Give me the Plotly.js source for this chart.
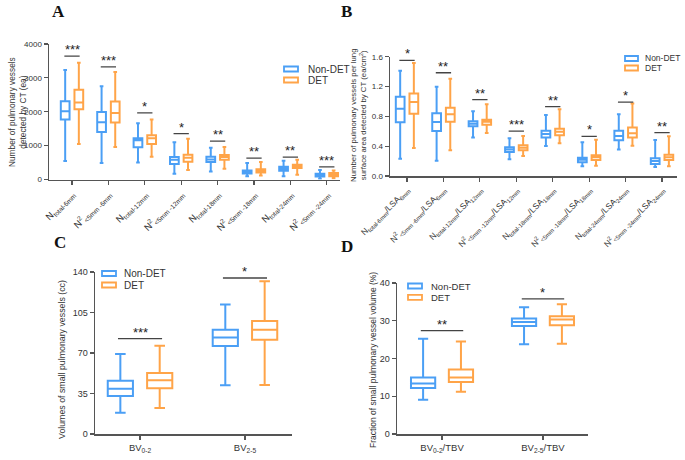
<!DOCTYPE html>
<html>
<head>
<meta charset="utf-8">
<script src="https://cdn.plot.ly/plotly-3.0.1.min.js"></script>
<style>html,body{margin:0;padding:0;background:#fff;}#chart{width:685px;height:460px;}</style>
</head>
<body>
<div id="chart"></div>
<script>
// ---------- Panel A data ----------
const catsA = ['N<sub>total-6mm</sub>', 'N<sup>2</sup><sub>&lt;5mm -6mm</sub>', 'N<sub>total-12mm</sub>', 'N<sup>2</sup><sub>&lt;5mm -12mm</sub>',
  'N<sub>total-18mm</sub>', 'N<sup>2</sup><sub>&lt;5mm -18mm</sub>', 'N<sub>total-24mm</sub>', 'N<sup>2</sup><sub>&lt;5mm -24mm</sub>'];
const A_nd_low = [543, 484, 504, 168, 237, 99, 99, 20];
const A_nd_q1 = [1768, 1402, 950, 454, 513, 178, 257, 90];
const A_nd_med = [2015, 1689, 1160, 583, 593, 227, 316, 130];
const A_nd_q3 = [2311, 1995, 1215, 662, 672, 267, 375, 170];
const A_nd_up = [3230, 2756, 1659, 1096, 939, 484, 553, 280];
const A_d_low = [1047, 958, 672, 277, 316, 118, 138, 40];
const A_d_q1 = [2074, 1679, 1047, 523, 583, 207, 336, 99];
const A_d_med = [2272, 1965, 1215, 642, 662, 257, 395, 150];
const A_d_q3 = [2647, 2301, 1304, 731, 721, 306, 435, 190];
const A_d_up = [3447, 3170, 1768, 1205, 958, 513, 583, 267];
const A_sig = ['***', '***', '*', '*', '**', '**', '**', '***'];
const A_sigY = [3644, 3326, 1964, 1354, 1135, 630, 660, 375];

// ---------- Panel B data ----------
const catsB = ['N<sub>total-6mm</sub>/LSA<sub>6mm</sub>', 'N<sup>2</sup><sub>&lt;5mm -6mm</sub>/LSA<sub>6mm</sub>',
  'N<sub>total-12mm</sub>/LSA<sub>12mm</sub>', 'N<sup>2</sup><sub>&lt;5mm -12mm</sub>/LSA<sub>12mm</sub>',
  'N<sub>total-18mm</sub>/LSA<sub>18mm</sub>', 'N<sup>2</sup><sub>&lt;5mm -18mm</sub>/LSA<sub>18mm</sub>',
  'N<sub>total-24mm</sub>/LSA<sub>24mm</sub>', 'N<sup>2</sup><sub>&lt;5mm -24mm</sub>/LSA<sub>24mm</sub>'];
const B_nd_low = [0.232, 0.206, 0.518, 0.223, 0.402, 0.130, 0.357, 0.121];
const B_nd_q1 = [0.720, 0.603, 0.666, 0.322, 0.518, 0.183, 0.478, 0.161];
const B_nd_med = [0.903, 0.724, 0.702, 0.357, 0.563, 0.219, 0.536, 0.201];
const B_nd_q3 = [1.064, 0.840, 0.733, 0.384, 0.608, 0.246, 0.608, 0.237];
const B_nd_up = [1.412, 1.198, 0.867, 0.505, 0.818, 0.451, 0.827, 0.483];
const B_d_low = [0.375, 0.344, 0.577, 0.268, 0.438, 0.139, 0.407, 0.130];
const B_d_q1 = [0.836, 0.728, 0.688, 0.344, 0.545, 0.215, 0.518, 0.215];
const B_d_med = [0.992, 0.827, 0.728, 0.380, 0.594, 0.250, 0.572, 0.250];
const B_d_q3 = [1.108, 0.916, 0.755, 0.411, 0.635, 0.277, 0.652, 0.286];
const B_d_up = [1.515, 1.305, 0.961, 0.536, 0.894, 0.487, 0.974, 0.532];
const B_sig = ['*', '**', '**', '***', '**', '*', '*', '**'];
const B_sigY = [1.551, 1.385, 1.023, 0.603, 0.930, 0.532, 0.992, 0.581];

// ---------- Panel C data ----------
const catsC = ['BV<sub>0-2</sub>', 'BV<sub>2-5</sub>'];
const C_nd_low = [18.4, 42.1];
const C_nd_q1 = [32.8, 76.0];
const C_nd_med = [39.2, 83.5];
const C_nd_q3 = [46.1, 90.2];
const C_nd_up = [69.1, 112.0];
const C_d_low = [22.5, 42.3];
const C_d_q1 = [39.5, 81.5];
const C_d_med = [46.4, 90.2];
const C_d_q3 = [52.7, 97.7];
const C_d_up = [76.3, 131.9];
const C_sig = ['***', '*'];
const C_sigY = [82.4, 134.8];

// ---------- Panel D data ----------
const catsD = ['BV<sub>0-2</sub>/TBV', 'BV<sub>2-5</sub>/TBV'];
const D_nd_low = [9.1, 23.8];
const D_nd_q1 = [12.2, 28.6];
const D_nd_med = [13.4, 29.7];
const D_nd_q3 = [15.0, 30.6];
const D_nd_up = [25.2, 33.6];
const D_d_low = [11.2, 23.9];
const D_d_q1 = [13.8, 28.8];
const D_d_med = [15.0, 30.3];
const D_d_q3 = [17.1, 31.2];
const D_d_up = [24.5, 34.4];
const D_sig = ['**', '*'];
const D_sigY = [27.4, 35.8];

const groupNames = ['Non-DET', 'DET'];

// ---------- styling ----------
const BLUE = '#4b9ff5';
const ORANGE = '#ffa448';
const COLORS = [BLUE, ORANGE];
const AX = '#555555';
const FONT = 'Liberation Sans, Arial, sans-serif';

function boxTrace(name, color, cats, low, q1, med, q3, up, xa, ya, ag, og) {
  return {
    type: 'box', name: name, x: cats, q1: q1, median: med, q3: q3,
    lowerfence: low, upperfence: up, boxpoints: false,
    xaxis: xa, yaxis: ya, alignmentgroup: ag, offsetgroup: og,
    line: {color: color, width: 2}, fillcolor: '#ffffff', whiskerwidth: 0.42,
    showlegend: false, hoverinfo: 'skip'
  };
}

const data = [
  boxTrace(groupNames[0], BLUE, catsA, A_nd_low, A_nd_q1, A_nd_med, A_nd_q3, A_nd_up, 'x', 'y', 'A', 'nd'),
  boxTrace(groupNames[1], ORANGE, catsA, A_d_low, A_d_q1, A_d_med, A_d_q3, A_d_up, 'x', 'y', 'A', 'd'),
  boxTrace(groupNames[0], BLUE, catsB, B_nd_low, B_nd_q1, B_nd_med, B_nd_q3, B_nd_up, 'x2', 'y2', 'B', 'nd'),
  boxTrace(groupNames[1], ORANGE, catsB, B_d_low, B_d_q1, B_d_med, B_d_q3, B_d_up, 'x2', 'y2', 'B', 'd'),
  boxTrace(groupNames[0], BLUE, catsC, C_nd_low, C_nd_q1, C_nd_med, C_nd_q3, C_nd_up, 'x3', 'y3', 'C', 'nd'),
  boxTrace(groupNames[1], ORANGE, catsC, C_d_low, C_d_q1, C_d_med, C_d_q3, C_d_up, 'x3', 'y3', 'C', 'd'),
  boxTrace(groupNames[0], BLUE, catsD, D_nd_low, D_nd_q1, D_nd_med, D_nd_q3, D_nd_up, 'x4', 'y4', 'D', 'nd'),
  boxTrace(groupNames[1], ORANGE, catsD, D_d_low, D_d_q1, D_d_med, D_d_q3, D_d_up, 'x4', 'y4', 'D', 'd')
];

function xAxis(domain, range, anchor, fs, angle) {
  return {
    domain: domain, range: range, anchor: anchor, type: 'category',
    showline: true, linecolor: AX, linewidth: 1.5, ticks: 'outside', ticklen: 4, tickwidth: 1.2, tickcolor: AX,
    showgrid: false, zeroline: false, tickangle: angle,
    tickfont: {family: FONT, size: fs, color: '#333'}, fixedrange: true
  };
}
function yAxis(domain, range, dtick, anchor, fmt, fs) {
  return {
    domain: domain, range: range, dtick: dtick, tick0: 0, anchor: anchor,
    showline: true, linecolor: AX, linewidth: 1.5, ticks: 'outside', ticklen: 4, tickwidth: 1.2, tickcolor: AX,
    showgrid: false, zeroline: false, tickformat: fmt,
    tickfont: {family: FONT, size: fs, color: '#333'}, fixedrange: true
  };
}

const W = 685, H = 460;
const px = v => v / W, py = v => 1 - v / H;

const layout = {
  width: W, height: H, margin: {l: 0, r: 0, t: 0, b: 0},
  paper_bgcolor: '#fff', plot_bgcolor: '#fff',
  font: {family: FONT, color: '#333'},
  showlegend: false,
  boxmode: 'group', boxgap: 0.25, boxgroupgap: 0.36,
  xaxis: xAxis([px(49), px(340)], [-0.632, 7.363], 'y', 9.5, -45),
  yaxis: yAxis([py(179.5), py(44)], [0, 4000], 1000, 'x', '', 8),
  xaxis2: xAxis([px(390), px(677)], [-0.467, 7.411], 'y2', 8.5, -45),
  yaxis2: yAxis([py(176), py(56.7)], [0, 1.6], 0.4, 'x2', '.1f', 8),
  xaxis3: xAxis([px(95), px(292)], [-0.429, 1.448], 'y3', 9.5, 0),
  yaxis3: yAxis([py(434), py(272)], [0, 140], 35, 'x3', '', 9),
  xaxis4: xAxis([px(397), px(588)], [-0.446, 1.446], 'y4', 9.5, 0),
  yaxis4: yAxis([py(434), py(283)], [0, 40], 10, 'x4', '', 9),
  shapes: [], annotations: []
};

function addSig(sig, sigY, xref, yref) {
  sig.forEach((s, i) => {
    layout.shapes.push({type: 'line', xref: xref, yref: yref, x0: i - 0.21, x1: i + 0.21, y0: sigY[i], y1: sigY[i],
      line: {color: '#444', width: 1.3}});
    layout.annotations.push({xref: xref, yref: yref, x: i, y: sigY[i], text: s, showarrow: false,
      yanchor: 'bottom', yshift: -3, font: {family: FONT, size: 13, color: '#222'}});
  });
}
addSig(A_sig, A_sigY, 'x', 'y');
addSig(B_sig, B_sigY, 'x2', 'y2');
addSig(C_sig, C_sigY, 'x3', 'y3');
addSig(D_sig, D_sigY, 'x4', 'y4');

// legends (icon rectangle + label), one per panel: [iconLeft, iconRight, y1, y2, textLeft, fontSize]
[[284, 298, 69, 80, 306, 10], [625, 638, 58.5, 68, 643, 8.5], [102, 116, 273.5, 285, 122, 10], [408, 422, 286, 297.3, 429, 9.5]]
  .forEach(L => {
    [L[2], L[3]].forEach((yy, k) => {
      layout.shapes.push({type: 'rect', xref: 'paper', yref: 'paper', x0: px(L[0]), x1: px(L[1]), y0: py(yy + 2.5), y1: py(yy - 2.5),
        line: {color: COLORS[k], width: 1.8}, fillcolor: '#ffffff'});
      layout.annotations.push({xref: 'paper', yref: 'paper', x: px(L[4]), y: py(yy), text: groupNames[k], showarrow: false,
        xanchor: 'left', yanchor: 'middle', font: {family: FONT, size: L[5], color: '#333'}});
    });
  });

// panel letters
[['A', 58, 12], ['B', 346, 12], ['C', 60, 243], ['D', 347, 246]].forEach(p => {
  layout.annotations.push({xref: 'paper', yref: 'paper', x: px(p[1]), y: py(p[2]), text: '<b>' + p[0] + '</b>',
    showarrow: false, xanchor: 'center', yanchor: 'middle', font: {family: 'Liberation Serif, Times New Roman, serif', size: 17, color: '#111'}});
});

// y-axis titles
[
  ['Number of pulmonary vessels<br>detected by CT (ea)', 17, 112, 8.3],
  ['Number of pulmonary vessels per lung<br>surface area detected by CT (ea/cm<sup>2</sup>)', 358, 116, 7.8],
  ['Volumes of small pulmonary vessels (cc)', 62, 360, 8.8],
  ['Fraction of small pulmonary vessel volume (%)', 373, 360, 8.5]
].forEach(t => {
  layout.annotations.push({xref: 'paper', yref: 'paper', x: px(t[1]), y: py(t[2]), text: t[0], textangle: -90,
    showarrow: false, xanchor: 'center', yanchor: 'middle', font: {family: FONT, size: t[3], color: '#333'}});
});

Plotly.newPlot('chart', data, layout, {displayModeBar: false, staticPlot: true});
</script>
</body>
</html>
